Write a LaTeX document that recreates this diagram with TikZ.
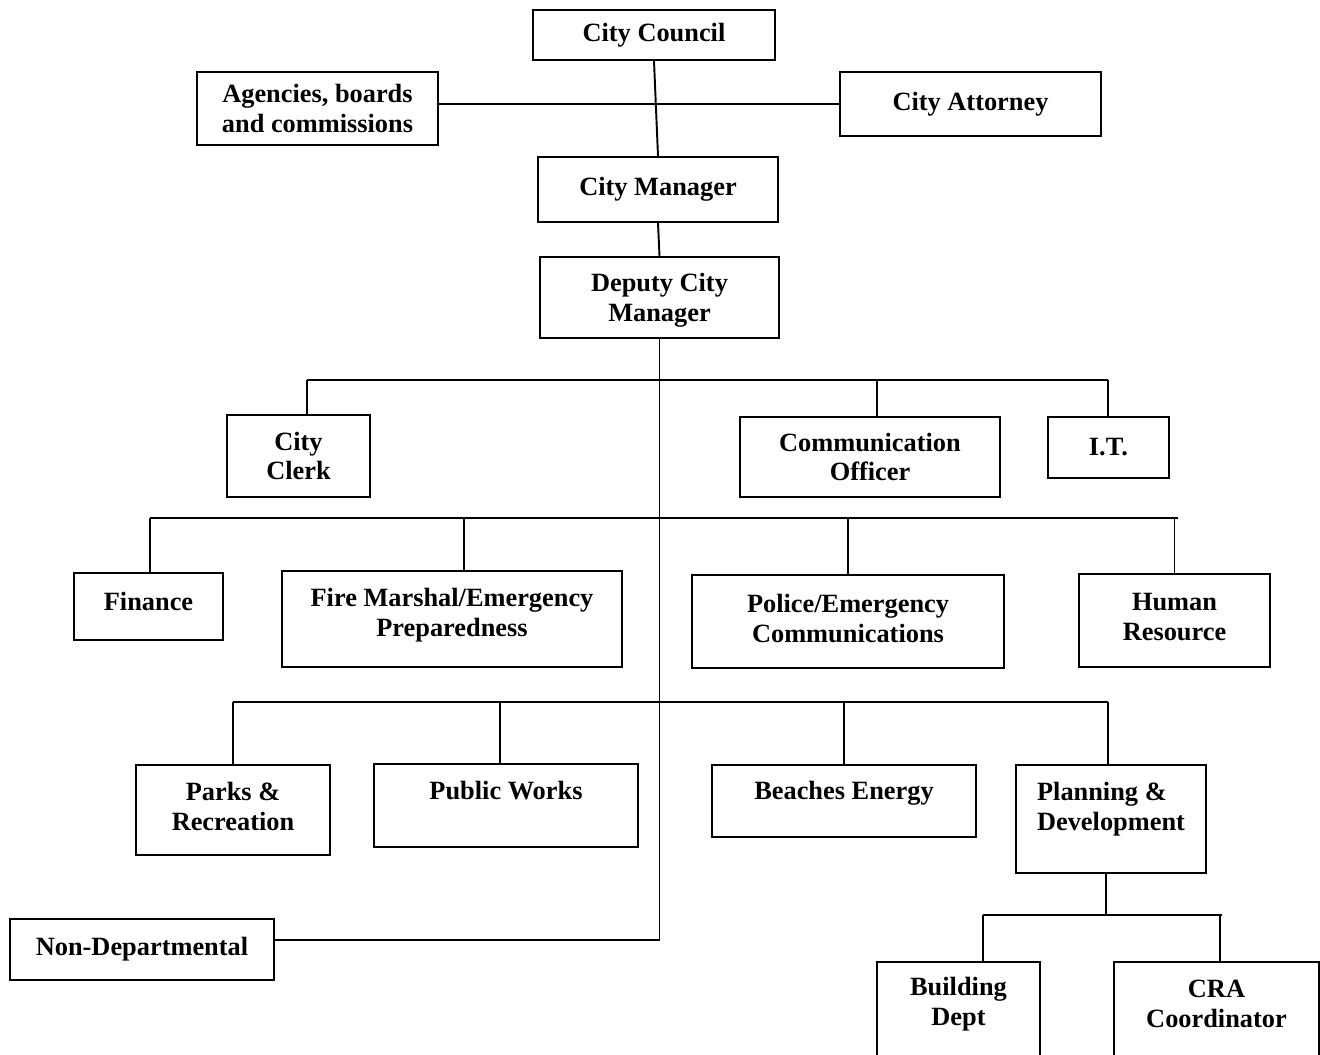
\documentclass[tikz,border=0pt]{standalone}
\usepackage{fontspec}
\setmainfont{Liberation Serif}
\usepackage{tikz}
\usetikzlibrary{positioning,calc}

\begin{document}
\begin{tikzpicture}[
    box/.style={rectangle, draw, line width=1.1pt, align=center, inner sep=2pt,
        font=\fontsize{15}{17}\selectfont\bfseries},
    lift/.style={text depth=#1},
    link/.style={line width=1.1pt}
]
\useasboundingbox (0,0) rectangle (26.4,-21.1);

% Top of the chart
\node[box, minimum width=4.84cm, minimum height=1.00cm] (council) at (13.08,-0.70) {City Council};
\node[box, minimum width=4.82cm, minimum height=1.46cm] (agencies) at (6.35,-2.17) {Agencies, boards\\and commissions};
\node[box, minimum width=5.22cm, minimum height=1.28cm] (attorney) at (19.41,-2.08) {City Attorney};
\node[box, minimum width=4.80cm, minimum height=1.30cm] (manager) at (13.16,-3.79) {City Manager};
\node[box, minimum width=4.78cm, minimum height=1.62cm, lift=-4.6pt] (deputy) at (13.19,-5.95) {Deputy City\\Manager};

% First row under the deputy
\node[box, minimum width=2.86cm, minimum height=1.64cm] (clerk) at (5.97,-9.12) {City\\Clerk};
\node[box, minimum width=5.20cm, minimum height=1.60cm] (comm) at (17.40,-9.14) {Communication\\Officer};
\node[box, minimum width=2.42cm, minimum height=1.22cm] (it) at (22.17,-8.95) {I.T.};

% Second row
\node[box, minimum width=2.98cm, minimum height=1.34cm, lift=5.7pt] (finance) at (2.97,-12.13) {Finance};
\node[box, minimum width=6.80cm, minimum height=1.92cm, lift=8pt] (fire) at (9.04,-12.38) {Fire Marshal/Emergency\\Preparedness};
\node[box, minimum width=6.24cm, minimum height=1.86cm, lift=3.4pt] (police) at (16.96,-12.43) {Police/Emergency\\Communications};
\node[box, minimum width=3.82cm, minimum height=1.86cm, lift=4pt] (hr) at (23.49,-12.41) {Human\\Resource};

% Third row
\node[box, minimum width=3.88cm, minimum height=1.80cm, lift=4.5pt] (parks) at (4.66,-16.20) {Parks \&\\Recreation};
\node[box, minimum width=5.28cm, minimum height=1.66cm, lift=17.6pt] (works) at (10.12,-16.11) {Public Works};
\node[box, minimum width=5.28cm, minimum height=1.44cm, lift=12.3pt] (beaches) at (16.88,-16.02) {Beaches Energy};
\node[box, minimum width=3.80cm, minimum height=2.16cm, align=left, lift=14.6pt] (planning) at (22.22,-16.38) {Planning \&\\Development};

% Under planning
\node[box, minimum width=3.26cm, minimum height=2.36cm, lift=22.6pt] (building) at (19.17,-20.42) {Building\\Dept};
\node[box, minimum width=4.10cm, minimum height=2.36cm, lift=19.3pt] (cra) at (24.33,-20.42) {CRA\\Coordinator};

% Off the trunk
\node[box, minimum width=5.28cm, minimum height=1.22cm] (nondep) at (2.84,-18.99) {Non-Departmental};

% Top connectors
\draw[link] (council.south) -- (manager.north);
\draw[link] (agencies.east |- attorney.west) -- (attorney.west);
\draw[link] (manager.south) -- (deputy.north);

% Trunk down to non-departmental
\coordinate (trunk) at (13.21,-18.80);
\draw[link] (deputy.south) -- (deputy.south |- trunk) -- (nondep.east |- trunk);

% Bus 1
\coordinate (b1a) at (6.14,-7.60);
\coordinate (b1b) at (22.16,-7.60);
\draw[link] (b1a) -- (b1b);
\draw[link] (b1a) -- (b1a |- clerk.north);
\draw[link] ([xshift=0.14cm]comm.north) -- ([xshift=0.14cm]comm.north |- b1a);
\draw[link] (b1b) -- (b1b |- it.north);

% Bus 2
\coordinate (b2a) at (3.00,-10.36);
\coordinate (b2b) at (23.56,-10.36);
\draw[link] (b2a) -- (b2b);
\draw[link] (b2a) -- (b2a |- finance.north);
\draw[link] ([xshift=0.24cm]fire.north) -- ([xshift=0.24cm]fire.north |- b2a);
\draw[link] (police.north) -- (police.north |- b2a);
\draw[link] (hr.north) -- (hr.north |- b2a);

% Bus 3
\coordinate (b3a) at (4.66,-14.04);
\coordinate (b3b) at (22.16,-14.04);
\draw[link] (b3a) -- (b3b);
\draw[link] (parks.north) -- (parks.north |- b3a);
\draw[link] ([xshift=-0.12cm]works.north) -- ([xshift=-0.12cm]works.north |- b3a);
\draw[link] (beaches.north) -- (beaches.north |- b3a);
\draw[link] (b3b) -- (b3b |- planning.north);

% Bus 4
\coordinate (b4a) at (19.66,-18.30);
\coordinate (b4b) at (24.44,-18.30);
\draw[link] ([xshift=-0.10cm]planning.south) -- ([xshift=-0.10cm]planning.south |- b4a);
\draw[link] (b4a) -- (b4b);
\draw[link] (b4a) -- (b4a |- building.north);
\draw[link] ([xshift=0.07cm]cra.north) -- ([xshift=0.07cm]cra.north |- b4a);

\end{tikzpicture}
\end{document}
